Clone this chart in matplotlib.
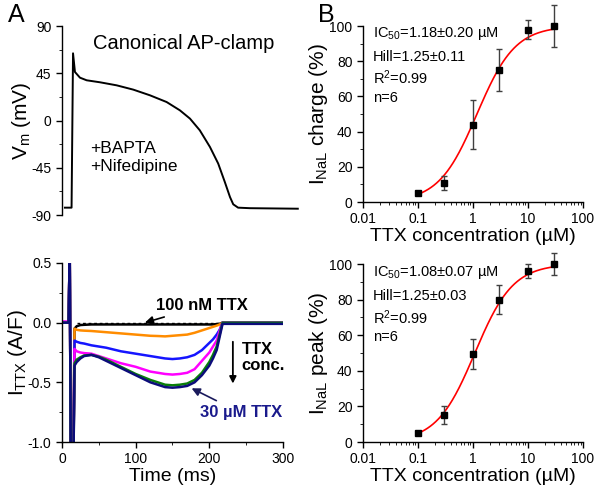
import matplotlib.pyplot as plt
import numpy as np
from matplotlib.ticker import MultipleLocator, FixedLocator, NullFormatter

plt.rcParams['font.family'] = ['Liberation Sans', 'DejaVu Sans']
plt.rcParams['mathtext.default'] = 'regular'
plt.rcParams['axes.unicode_minus'] = False

# --- panel A top: action potential clamp waveform
ap_time = [4, 13, 15, 17.6, 24.4, 33.5, 51.6, 74.2, 96.8, 119.4, 142, 160, 173.7, 187,
           200.8, 212, 221, 228, 232.4, 239, 255, 320]
ap_vm = [-83, -83, 64, 46.2, 40.8, 38.3, 36.4, 33.5, 29.4, 24, 17.6, 9.7, 1.8, -9.3,
         -25.2, -41, -58.6, -72.9, -79.8, -83, -83.5, -84]

# --- panel A bottom: TTX-sensitive currents
t_ttx = [0, 9, 10.5, 12, 15.5, 17, 20, 25, 30, 40, 50, 60, 80, 100, 120, 130, 140, 150,
         160, 170, 180, 190, 200, 205, 210, 214, 218, 240, 270, 300]
i_100nM = [0, 0, 0.6, -1.2, -1.2, -0.05, -0.03, -0.02, -0.018, -0.015, -0.015, -0.015,
           -0.015, -0.015, -0.015, -0.015, -0.015, -0.015, -0.015, -0.015, -0.015, -0.015,
           -0.015, -0.015, -0.012, -0.01, 0, 0, 0, 0]
i_orange = [0, 0, 0.6, -1.2, -1.2, -0.05, -0.06, -0.065, -0.067, -0.07, -0.075, -0.08,
            -0.09, -0.10, -0.11, -0.112, -0.115, -0.11, -0.105, -0.10, -0.085, -0.065,
            -0.045, -0.035, -0.025, -0.015, 0, 0, 0, 0]
i_blue = [0, 0, 0.6, -1.2, -1.2, -0.15, -0.16, -0.17, -0.175, -0.19, -0.20, -0.21, -0.24,
          -0.26, -0.28, -0.29, -0.30, -0.305, -0.30, -0.29, -0.27, -0.23, -0.17, -0.14,
          -0.10, -0.06, 0, 0, 0, 0]
i_magenta = [0.01, 0.01, 0.6, -1.2, -1.2, -0.22, -0.24, -0.25, -0.255, -0.26, -0.28, -0.30,
             -0.34, -0.37, -0.41, -0.42, -0.43, -0.435, -0.43, -0.42, -0.39, -0.32, -0.25,
             -0.20, -0.15, -0.07, 0, 0, 0, 0]
i_green = [0, 0, 0.6, -1.2, -1.2, -0.34, -0.31, -0.29, -0.275, -0.27, -0.285, -0.31, -0.37,
           -0.43, -0.48, -0.50, -0.52, -0.525, -0.52, -0.51, -0.48, -0.42, -0.33, -0.27,
           -0.20, -0.10, 0, 0, 0, 0]
i_30uM = [0, 0, 0.6, -1.2, -1.2, -0.36, -0.33, -0.30, -0.28, -0.27, -0.29, -0.32, -0.38,
          -0.44, -0.50, -0.52, -0.54, -0.545, -0.54, -0.53, -0.50, -0.44, -0.36, -0.30,
          -0.23, -0.12, -0.01, -0.01, -0.01, -0.01]

traces = [(i_100nM, 'black'), (i_orange, '#ff8c00'), (i_blue, '#1515ff'),
          (i_magenta, '#ff00ff'), (i_green, '#0a7d0a'), (i_30uM, '#0c0c7a')]

# --- panel B: dose response
conc = [0.1, 0.3, 1, 3, 10, 30]
charge = [5, 11, 44, 75, 98, 100]
charge_err = [1, 4, 14, 12, 5.5, 12]
peak = [5, 15, 49.5, 80, 96, 100]
peak_err = [1, 5, 8.5, 8, 4, 6]
ic50_charge, hill_charge = 1.18, 1.25
ic50_peak, hill_peak = 1.08, 1.25
charge_text = ['IC$_{50}$=1.18\u00b10.20 \u00b5M', 'Hill=1.25\u00b10.11', 'R$^2$=0.99', 'n=6']
peak_text = ['IC$_{50}$=1.08\u00b10.07 \u00b5M', 'Hill=1.25\u00b10.03', 'R$^2$=0.99', 'n=6']

fig = plt.figure(figsize=(6, 4.87), dpi=100)

# top left
ax1 = fig.add_axes([0.1033, 0.5585, 0.3967, 0.3881])
ax1.plot(ap_time, ap_vm, color='black', lw=1.4)
ax1.set_xlim(0, 323)
ax1.set_ylim(-90, 90)
ax1.set_yticks([-90, -45, 0, 45, 90])
ax1.yaxis.set_minor_locator(MultipleLocator(22.5))
for s in ['top', 'right', 'bottom']:
    ax1.spines[s].set_visible(False)
ax1.set_xticks([])
ax1.set_ylabel('V$_m$ (mV)', fontsize=15)
ax1.yaxis.set_label_coords(-0.12, 0.5)
ax1.text(42, 73.5, 'Canonical AP-clamp', fontsize=14.5, va='center')
ax1.text(38, -35, '+BAPTA\n+Nifedipine', fontsize=12.5, va='center', linespacing=1.25)

# bottom left
ax2 = fig.add_axes([0.1033, 0.0924, 0.3683, 0.3676])
ax2.plot([20, 215], [0, 0], color='black', lw=1, ls=(0, (2, 2)))
for vals, col in traces:
    ax2.plot(t_ttx, vals, color=col, lw=1.8)
ax2.set_xlim(0, 300)
ax2.set_ylim(-1.0, 0.5)
ax2.set_yticks([-1.0, -0.5, 0.0, 0.5])
ax2.set_yticklabels(['-1.0', '-0.5', '0.0', '0.5'])
ax2.yaxis.set_minor_locator(MultipleLocator(0.25))
ax2.set_xticks([0, 100, 200, 300])
ax2.xaxis.set_minor_locator(MultipleLocator(50))
ax2.spines['top'].set_visible(False)
ax2.spines['right'].set_visible(False)
ax2.set_xlabel('Time (ms)', fontsize=14, labelpad=1)
ax2.set_ylabel('I$_{TTX}$ (A/F)', fontsize=15)
ax2.yaxis.set_label_coords(-0.15, 0.5)
ax2.annotate('100 nM TTX', xy=(112.5, 0.0), xytext=(128, 0.14), fontsize=12,
             fontweight='bold', va='center',
             arrowprops=dict(arrowstyle='-|>', color='black', lw=1.2, shrinkA=2, shrinkB=0))
ax2.annotate('', xy=(232, -0.51), xytext=(232, -0.16),
             arrowprops=dict(arrowstyle='-|>', color='black', lw=1.3, shrinkA=0, shrinkB=0))
ax2.text(244, -0.295, 'TTX\nconc.', fontsize=12, fontweight='bold', va='center',
         linespacing=1.1)
ax2.annotate('30 \u00b5M TTX', xy=(176, -0.55), xytext=(187, -0.75), fontsize=12,
             fontweight='bold', va='center', color='#1a1a8c',
             arrowprops=dict(arrowstyle='-|>', color='#1a1a5c', lw=1.2, shrinkA=2, shrinkB=0,
                             relpos=(0.3, 1.0)))

# right panels
xfit = np.logspace(np.log10(0.1), np.log10(30), 200)


def dose_panel(rect, y, err, ic50, hill, lines, ylabel, ypos):
    ax = fig.add_axes(rect)
    ax.plot(xfit, 100 / (1 + (ic50 / xfit) ** hill), color='red', lw=1.2)
    ax.errorbar(conc, y, yerr=err, fmt='s', color='black', ms=5, ecolor='#404040',
                elinewidth=1, capsize=2.5, capthick=1)
    ax.set_xscale('log')
    ax.set_xlim(0.01, 100)
    ax.set_ylim(0, 100)
    ax.set_xticks([0.01, 0.1, 1, 10, 100])
    ax.set_xticklabels(['0.01', '0.1', '1', '10', '100'])
    ax.xaxis.set_minor_locator(FixedLocator([m * 10.0 ** e for e in range(-2, 2) for m in range(2, 10)]))
    ax.xaxis.set_minor_formatter(NullFormatter())
    ax.set_yticks([0, 20, 40, 60, 80, 100])
    ax.yaxis.set_minor_locator(MultipleLocator(10))
    ax.spines['top'].set_visible(False)
    ax.spines['right'].set_visible(False)
    ax.set_xlabel('TTX concentration (\u00b5M)', fontsize=14, labelpad=1)
    ax.set_ylabel(ylabel, fontsize=15)
    ax.yaxis.set_label_coords(-0.15, 0.5)
    for txt, yy in zip(lines, ypos):
        ax.text(0.045, yy, txt, transform=ax.transAxes, fontsize=10.5, va='center')
    for art in ax.lines + ax.collections:
        art.set_clip_on(False)
    return ax


ax3 = dose_panel([0.605, 0.5852, 0.3667, 0.3614], charge, charge_err, ic50_charge,
                 hill_charge, charge_text, 'I$_{NaL}$ charge (%)', [0.96, 0.824, 0.705, 0.59])
ax4 = dose_panel([0.605, 0.0924, 0.3667, 0.3655], peak, peak_err, ic50_peak,
                 hill_peak, peak_text, 'I$_{NaL}$ peak (%)', [0.955, 0.82, 0.70, 0.59])

for ax in [ax1, ax2, ax3, ax4]:
    ax.tick_params(labelsize=10, width=1, length=4, direction='out')
    ax.tick_params(which='minor', length=2.5, direction='out')
    for s in ax.spines.values():
        s.set_linewidth(1)

fig.text(0.013, 0.97, 'A', fontsize=18, va='center')
fig.text(0.53, 0.97, 'B', fontsize=18, va='center')

fig.savefig('out.png', dpi=100)
